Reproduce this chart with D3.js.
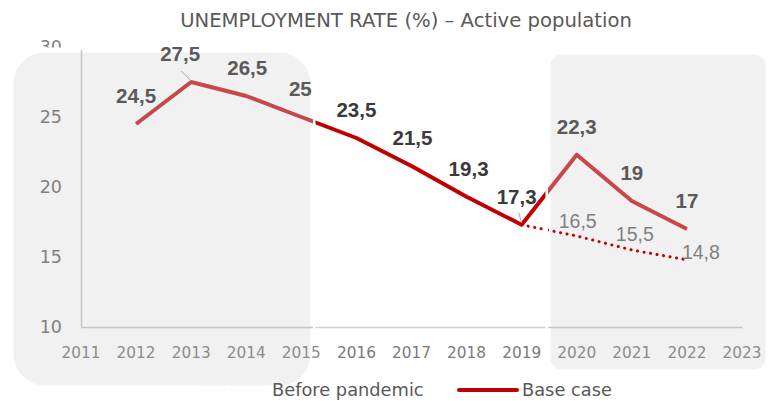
<!DOCTYPE html>
<html><head><meta charset="utf-8">
<script src="https://cdn.jsdelivr.net/npm/d3@7"></script>
<style>
body{margin:0;background:#fff;}
svg{display:block;}
text{font-family:"DejaVu Sans",sans-serif;}
text.num{font-family:"Liberation Sans",Arial,sans-serif;}
</style>
</head><body>
<svg id="chart" width="774" height="401"></svg>
<script>
// ---------- data ----------
const title = "UNEMPLOYMENT RATE (%) – Active population";
const years = [2011,2012,2013,2014,2015,2016,2017,2018,2019,2020,2021,2022,2023];
const yTicks = [10,15,20,25,30];
const baseYears = [2012,2013,2014,2015,2016,2017,2018,2019,2020,2021,2022];
const baseValues = [24.5,27.5,26.5,25,23.5,21.5,19.3,17.3,22.3,19,17];
const baseLabels = ["24,5","27,5","26,5","25","23,5","21,5","19,3","17,3","22,3","19","17"];
const preYears = [2019,2020,2021,2022];
const preValues = [17.3,16.5,15.5,14.8];
const preLabels = ["","16,5","15,5","14,8"];
const seriesNames = ["Before pandemic","Base case"];

// ---------- layout / style ----------
const baseLabelDx = [0,-11,1,-1,0,1,2,-5,0,0,0];
const preLabelOff = [[0,0],[1,-8],[3,-9],[13,-1]];
const red = "#c00000", redSoft = "#c9474a";
const svg = d3.select("#chart");
const x = d3.scaleLinear().domain([2011,2023]).range([81,742]);
const y = d3.scaleLinear().domain([10,30]).range([327,47]);
const overlays = [
  {x0:11,x1:313,y0:50,y1:388,r:34},
  {x0:548,x1:768,y0:52,y1:372,r:14}
];
const inOverlay = px => overlays.some(o => px>=o.x0 && px<=o.x1);

const baseData = baseYears.map((yr,i)=>({yr, v:baseValues[i], lab:baseLabels[i], dx:baseLabelDx[i]}));
const preData = preYears.map((yr,i)=>({yr, v:preValues[i], lab:preLabels[i], off:preLabelOff[i]}));
const line = d3.line().x(d=>x(d.yr)).y(d=>y(d.v));

function fit(sel, target){
  const n = sel.node(); const fs = parseFloat(sel.attr("font-size"));
  const w = n.getComputedTextLength();
  return fs*target/w;
}

// clip paths
const defs = svg.append("defs");
const cp = defs.append("clipPath").attr("id","ov");
overlays.forEach(o=>cp.append("rect").attr("x",o.x0).attr("y",o.y0)
  .attr("width",o.x1-o.x0).attr("height",o.y1-o.y0).attr("rx",o.r));

// ---------- main layer ----------
function drawAxes(g, col){
  const ya = g.append("g").attr("transform","translate(81,0)")
    .call(d3.axisLeft(y).tickValues(yTicks).tickSize(0).tickFormat(""));
  ya.select(".domain").attr("stroke",col).attr("stroke-width",1.5);
  const xa = g.append("g").attr("transform","translate(0,327)")
    .call(d3.axisBottom(x).tickValues(years).tickSize(0).tickFormat(""));
  xa.select(".domain").attr("stroke",col).attr("stroke-width",1.5);
}
const gMain = svg.append("g");
drawAxes(gMain,"#d0d0d0");
gMain.append("path").datum(baseData).attr("d",line).attr("fill","none")
  .attr("stroke",red).attr("stroke-width",4).attr("stroke-linejoin","round");
gMain.append("path").datum(preData).attr("d",line).attr("fill","none")
  .attr("stroke",red).attr("stroke-width",3).attr("stroke-dasharray","0.1,6.5").attr("stroke-linecap","round");
const yFont = 17.5;
gMain.append("text").attr("x",62).attr("y",y(30)+6).attr("text-anchor","end")
  .attr("font-size",yFont).attr("fill","#808080").text(yTicks[yTicks.length-1]);
gMain.append("line").attr("x1",207).attr("x2",268).attr("y1",389).attr("y2",389)
  .attr("stroke",red).attr("stroke-width",3).attr("stroke-dasharray","0.1,6").attr("stroke-linecap","round").attr("opacity",0.18);

// ---------- overlays ----------
overlays.forEach(o=>svg.append("rect").attr("x",o.x0).attr("y",o.y0)
  .attr("width",o.x1-o.x0).attr("height",o.y1-o.y0).attr("rx",o.r)
  .attr("fill","#f1f1f1").attr("stroke","#fff").attr("stroke-width",5));

const gIn = svg.append("g").attr("clip-path","url(#ov)");
drawAxes(gIn,"#c6c6c6");
gIn.append("path").datum(baseData).attr("d",line).attr("fill","none")
  .attr("stroke",redSoft).attr("stroke-width",4).attr("stroke-linejoin","round");
gIn.append("path").datum(preData).attr("d",line).attr("fill","none")
  .attr("stroke",red).attr("stroke-width",3).attr("stroke-dasharray","0.1,6.5").attr("stroke-linecap","round");

// ---------- text layer ----------
const gT = svg.append("g");
const t = gT.append("text").attr("x",406).attr("y",27).attr("text-anchor","middle")
  .attr("font-size",18).attr("fill","#595959").text(title);
t.attr("font-size", fit(t,452));

gT.selectAll(".yt").data(yTicks.slice(0,-1)).join("text").attr("class","yt")
  .attr("x",62).attr("y",d=>y(d)+6).attr("text-anchor","end")
  .attr("font-size",yFont).attr("fill","#808080").text(d=>d);
const xt = gT.selectAll(".xt").data(years).join("text").attr("class","xt")
  .attr("x",d=>x(d)).attr("y",358).attr("text-anchor","middle")
  .attr("font-size",15).attr("fill",d=>inOverlay(x(d))?"#8c8c8c":"#7a7a7a").text(d=>d);
const xf = fit(d3.select(xt.nodes()[0]),39); xt.attr("font-size",xf);

gT.append("line").attr("x1",x(2013)-10).attr("y1",y(27.5)-11).attr("x2",x(2013)).attr("y2",y(27.5)-1)
  .attr("stroke","#a6a6a6").attr("stroke-width",1);
gT.append("line").attr("x1",x(2019)-3).attr("y1",y(17.3)-12).attr("x2",x(2019)).attr("y2",y(17.3)-2)
  .attr("stroke","#a6a6a6").attr("stroke-width",1);

const bl = gT.selectAll(".bl").data(baseData).join("text").attr("class","bl num")
  .attr("x",d=>x(d.yr)+d.dx).attr("y",d=>y(d.v)-21).attr("text-anchor","middle")
  .attr("font-size",19).attr("font-weight","bold")
  .attr("fill",d=>inOverlay(x(d.yr))?"#5a5a5a":"#3a3a3a").text(d=>d.lab);
const bf = fit(d3.select(bl.nodes()[0]),40); bl.attr("font-size",bf);
const pl = gT.selectAll(".pl").data(preData.filter(d=>d.lab)).join("text").attr("class","pl num")
  .attr("x",d=>x(d.yr)+d.off[0]).attr("y",d=>y(d.v)+d.off[1]).attr("text-anchor",(d,i)=>i===2?"start":"middle")
  .attr("font-size",18).attr("fill","#808080").text(d=>d.lab);
pl.filter((d,i)=>i===2).attr("x",d=>x(d.yr)-5);
const pf = fit(d3.select(pl.nodes()[0]),38); pl.attr("font-size",pf);

gT.append("line").attr("x1",459).attr("x2",517).attr("y1",390).attr("y2",390)
  .attr("stroke",red).attr("stroke-width",4).attr("stroke-linecap","round");
const l2 = gT.append("text").attr("x",522).attr("y",396).attr("font-size",16).attr("fill","#595959").text(seriesNames[1]);
const lf = fit(l2,90); l2.attr("font-size",lf);
gT.append("text").attr("x",272).attr("y",396).attr("font-size",lf).attr("fill","#595959").text(seriesNames[0]);
</script>
</body></html>
